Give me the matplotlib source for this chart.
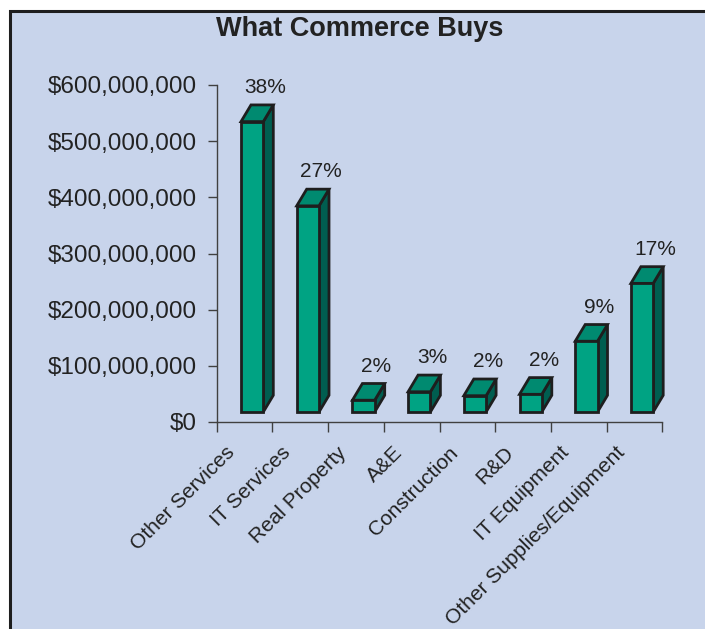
import matplotlib
matplotlib.use("Agg")
import matplotlib.pyplot as plt
from matplotlib.patches import Polygon, Rectangle
from matplotlib.ticker import FuncFormatter

# Spending by category (US dollars)
categories = ["Other Services", "IT Services", "Real Property", "A&E",
              "Construction", "R&D", "IT Equipment", "Other Supplies/Equipment"]
spending = [517e6, 367e6, 21e6, 36e6, 29e6, 31.5e6, 126e6, 229e6]
y_ticks = [0, 100e6, 200e6, 300e6, 400e6, 500e6, 600e6]

total = sum(spending)
shares = [f"{round(v / total * 100)}%" for v in spending]

BG = "#C8D4EB"
FRONT = "#00A383"
TOP = "#008A70"
SIDE = "#005E50"
EDGE = "#1E1E1E"
AXIS = "#404040"
FONT = "Liberation Sans"

W, H, DPI = 705, 629, 100
fig = plt.figure(figsize=(W / DPI, H / DPI), dpi=DPI, facecolor="white")

# framed panel: open at the right and bottom
fig.patches.append(Rectangle((9.5 / W, -0.1), 1.2, 1 - 10.5 / H + 0.1,
                             transform=fig.transFigure, facecolor=BG,
                             edgecolor=EDGE, linewidth=2.2, zorder=-10))

ax_l, ax_r = 216.7 / W, 662.3 / W
ax_b, ax_t = 1 - 422 / H, 1 - 85 / H
ax = fig.add_axes([ax_l, ax_b, ax_r - ax_l, ax_t - ax_b])
ax.set_facecolor("none")
ax.set_xlim(0, len(categories))
ax.set_ylim(0, 600e6)

# pixel -> data helpers for the 3D look
px_x = len(categories) / (662.3 - 216.7)
px_y = 600e6 / (422 - 85)
front_off = 24.3 * px_x
front_w = 22.3 * px_x
dx = 10 * px_x
dy = 16.7 * px_y
base = 10 * px_y

for i, (v, lab) in enumerate(zip(spending, shares)):
    x0 = i + front_off
    b = base
    t = base + v
    side = Polygon([(x0 + front_w, b), (x0 + front_w + dx, b + dy),
                    (x0 + front_w + dx, t + dy), (x0 + front_w, t)],
                   closed=True, facecolor=SIDE, edgecolor=EDGE, linewidth=2.0,
                   joinstyle="miter", clip_on=False, zorder=3)
    top = Polygon([(x0, t), (x0 + front_w, t), (x0 + front_w + dx, t + dy),
                   (x0 + dx, t + dy)],
                  closed=True, facecolor=TOP, edgecolor=EDGE, linewidth=2.0,
                  joinstyle="miter", clip_on=False, zorder=3)
    front = Polygon([(x0, b), (x0 + front_w, b), (x0 + front_w, t), (x0, t)],
                    closed=True, facecolor=FRONT, edgecolor=EDGE, linewidth=2.0,
                    joinstyle="miter", clip_on=False, zorder=4)
    for p in (side, top, front):
        ax.add_patch(p)
    ax.text(x0 + dx + front_w / 2 + 3 * px_x, t + dy + 12 * px_y, lab,
            ha="center", va="baseline", fontsize=15, color="#222222",
            family=FONT, clip_on=False)

# axes styling
for s in ("top", "right"):
    ax.spines[s].set_visible(False)
for s in ("left", "bottom"):
    ax.spines[s].set_color(AXIS)
    ax.spines[s].set_linewidth(1.0)

ax.set_yticks(y_ticks)
ax.yaxis.set_major_formatter(FuncFormatter(lambda v, p: f"${v:,.0f}"))
ax.tick_params(axis="y", direction="out", length=6.5, width=1.0, color=AXIS,
               pad=8, labelsize=17.5, labelcolor="#222222")
for t in ax.get_yticklabels():
    t.set_family(FONT)

ax.set_xticks(range(len(categories) + 1))
ax.set_xticklabels([])
ax.tick_params(axis="x", direction="out", length=7, width=1.0, color=AXIS)

# rotated category names
for i, name in enumerate(categories):
    ax.text(i + 0.5 - 19 * px_x, -21 * px_y, name, rotation=45,
            rotation_mode="anchor", ha="right", va="top", fontsize=15,
            color="#222222", family=FONT, clip_on=False)

fig.text(359.5 / W, 1 - 29 / H, "What Commerce Buys", ha="center",
         va="center", fontsize=19.5, fontweight="bold", color="#222222",
         family=FONT)

fig.savefig("out.png", dpi=DPI, facecolor="white")
